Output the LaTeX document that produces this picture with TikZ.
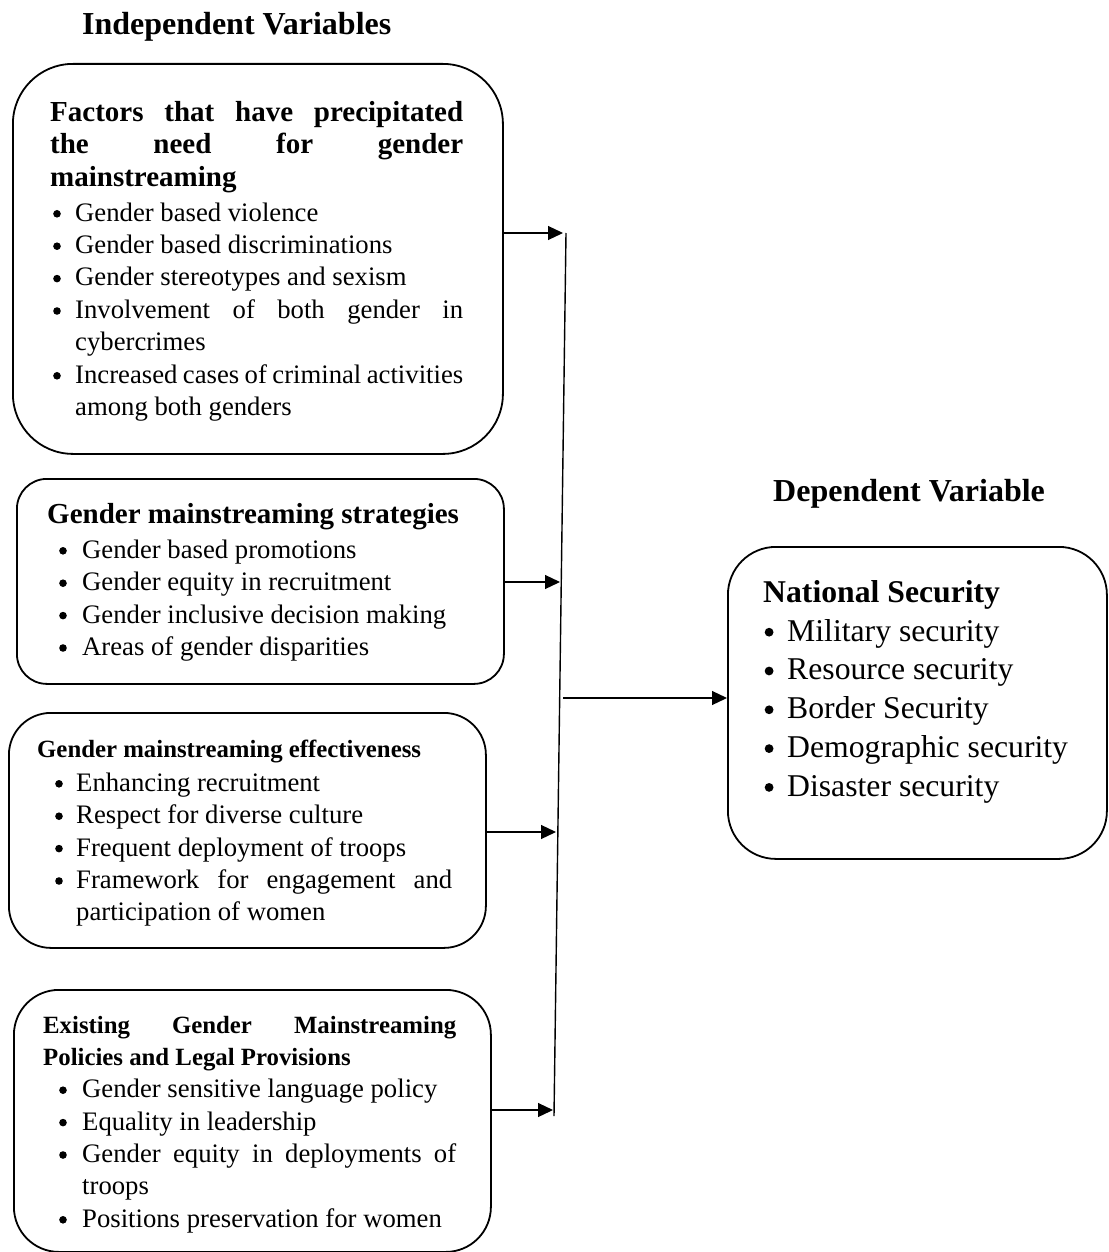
\documentclass[tikz,border=0pt]{standalone}
\usepackage{fontspec}
\setmainfont{Liberation Serif}
\usetikzlibrary{arrows.meta}
\newlength\bulx
\newlength\txtx
\newlength\dotr
\newlength\doty
\newcommand\tstrut{\rule{0pt}{24pt}}
\newcommand\nsk{\spaceskip=\fontdimen2\font plus 0.5em minus 0pt\relax}
\newcommand\bsk{\spaceskip=\fontdimen2\font plus 0.5em minus 0.1em\relax}
\newcommand\nohy{\hyphenpenalty=10000\exhyphenpenalty=10000\tolerance=10000\relax}
\newcommand\dotb{\tikz[baseline=0pt]\fill (\dotr,\doty) circle[radius=\dotr];}
\newcommand\bitem[1]{\par\noindent\hangindent=\txtx\hangafter=1\makebox[\txtx][l]{\hspace*{\bulx}\dotb}#1}
\newcommand\hdg{\fontsize{32}{38}\selectfont\bfseries}
\newcommand\ttl{\fontsize{29}{32.5}\selectfont\bfseries\nsk}
\newcommand\ttls{\fontsize{24.8}{32.5}\selectfont\bfseries\nsk}
\newcommand\bdy{\fontsize{26.7}{32.4}\selectfont\mdseries\bsk\setlength\dotr{3.8pt}\setlength\doty{7.4pt}}
\newcommand\bdyl{\fontsize{31.7}{38.8}\selectfont\mdseries\bsk\setlength\dotr{4.4pt}\setlength\doty{8.8pt}}
\begin{document}
\begin{tikzpicture}[x=1pt,y=-1pt,
  box/.style={draw, line width=1.8pt, rounded corners=#1, inner sep=0pt, anchor=north west},
  txt/.style={anchor=north west, inner sep=0pt, align=justify},
  arr/.style={line width=1.2pt, -{Triangle[length=15pt,width=14pt]}},
  vline/.style={line width=1.4pt}]
\useasboundingbox (0,0) rectangle (1108,1252);

% headings
\node[anchor=base west, inner sep=0pt] (h1) at (82,35) {\hdg Independent Variables};
\node[anchor=base west, inner sep=0pt] (h2) at (773,501) {\hdg Dependent Variable};

% boxes
\node[box=60pt, minimum width=490pt, minimum height=390pt] (b1) at (12,63) {};
\node[box=30pt, minimum width=487pt, minimum height=205pt] (b2) at (16,478) {};
\node[box=42pt, minimum width=477pt, minimum height=235pt] (b3) at (8,712) {};
\node[box=45pt, minimum width=477pt, minimum height=262pt] (b4) at (13,989) {};
\node[box=48pt, minimum width=379pt, minimum height=312pt] (b5) at (727,546) {};

% box 1 text
\node[txt, text width=413pt] (t1) at (50,97) {\nohy
\setlength\bulx{3pt}\setlength\txtx{25pt}%
\ttl\noindent\tstrut Factors that have precipitated the need for gender mainstreaming\par
\vspace{2.6pt}\bdy
\bitem{Gender based violence}
\bitem{Gender based discriminations}
\bitem{Gender stereotypes and sexism}
\bitem{Involvement of both gender in cybercrimes}
\bitem{Increased cases of criminal activities among both genders}\par};

% box 2 text
\node[txt, text width=423pt] (t2) at (47,499) {\nohy
\setlength\bulx{12pt}\setlength\txtx{35pt}%
\ttl\noindent\tstrut Gender mainstreaming strategies\par
\vspace{2.6pt}\bdy
\bitem{Gender based promotions}
\bitem{Gender equity in recruitment}
\bitem{Gender inclusive decision making}
\bitem{Areas of gender disparities}\par};

% box 3 text
\node[txt, text width=415pt] (t3) at (37,733) {\nohy
\setlength\bulx{18pt}\setlength\txtx{39pt}%
\ttls\noindent\tstrut Gender mainstreaming effectiveness\par
\vspace{1.6pt}\bdy
\bitem{Enhancing recruitment}
\bitem{Respect for diverse culture}
\bitem{Frequent deployment of troops}
\bitem{Framework for engagement and participation of women}\par};

% box 4 text
\node[txt, text width=413pt] (t4) at (43,1009) {\nohy
\setlength\bulx{16pt}\setlength\txtx{39pt}%
\ttls\noindent\tstrut Existing Gender Mainstreaming Policies and Legal Provisions\par
\vspace{-0.5pt}\bdy
\bitem{Gender sensitive language policy}
\bitem{Equality in leadership}
\bitem{Gender equity in deployments of troops}
\bitem{Positions preservation for women}\par};

% box 5 text
\node[txt, text width=330pt] (t5) at (763,578) {\nohy
\setlength\bulx{1.5pt}\setlength\txtx{24pt}%
\fontsize{31.7}{38.8}\selectfont\bfseries\nsk\noindent\tstrut National Security\par
\bdyl
\bitem{Military security}
\bitem{Resource security}
\bitem{Border Security}
\bitem{Demographic security}
\bitem{Disaster security}\par};

% connector line
\coordinate (vt) at (566,233);
\coordinate (vb) at (554,1116);
\draw[vline] (vt) -- (vb);
\coordinate (a1) at (563,233);
\coordinate (a2) at (560,582);
\coordinate (a3) at (556,832);
\coordinate (a4) at (553,1110);
\coordinate (m1) at (563,698);
\draw[arr] (b1.east |- a1) -- (a1);
\draw[arr] (b2.east |- a2) -- (a2);
\draw[arr] (b3.east |- a3) -- (a3);
\draw[arr] (b4.east |- a4) -- (a4);
\draw[arr] (m1) -- (b5.west |- m1);
\end{tikzpicture}
\end{document}
